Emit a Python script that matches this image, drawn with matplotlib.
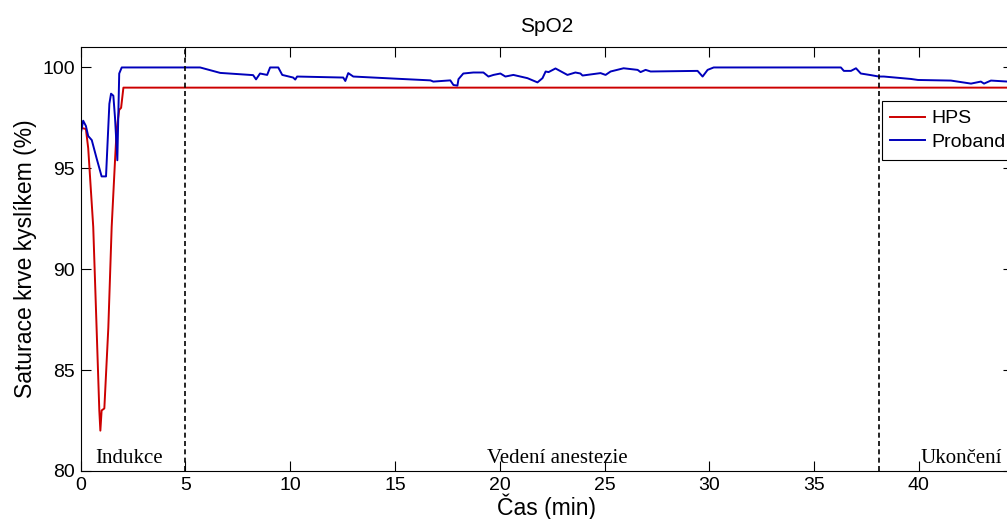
import matplotlib.pyplot as plt

# time axis in minutes, SpO2 in %
hps_t = [0.0, 0.05, 0.25, 0.36, 0.60, 0.76, 0.89, 0.94, 1.00, 1.13, 1.32,
         1.48, 1.64, 1.72, 1.84, 1.93, 2.04, 45.0]
hps_v = [97.0, 97.0, 96.95, 96.0, 92.1, 87.1, 83.0, 82.0, 83.0, 83.1, 87.1,
         92.1, 95.4, 96.95, 97.9, 98.0, 99.0, 99.0]

prob_t = [0.0, 0.12, 0.25, 0.36, 0.53, 0.76, 1.00, 1.21, 1.37, 1.45, 1.56,
          1.64, 1.75, 1.84, 1.96, 5.70, 6.66, 8.23, 8.37, 8.56, 8.90, 9.04,
          9.43, 9.62, 10.14, 10.24, 10.33, 12.53, 12.63, 12.77, 13.01, 15.11,
          16.69, 16.83, 17.64, 17.79, 17.98, 18.03, 18.26, 18.74, 19.22, 19.46,
          19.70, 20.03, 20.27, 20.65, 21.32, 21.80, 22.04, 22.19, 22.33, 22.66,
          23.23, 23.61, 23.85, 23.95, 24.81, 25.05, 25.29, 25.91, 26.58, 26.72,
          26.96, 27.20, 29.44, 29.68, 29.92, 30.21, 36.28, 36.42, 36.76, 37.00,
          37.23, 37.71, 38.09, 38.33, 39.62, 39.96, 41.53, 42.49, 42.96, 43.11,
          43.44, 44.25, 45.0]
prob_v = [96.7, 97.36, 97.1, 96.6, 96.4, 95.5, 94.6, 94.6, 98.2, 98.7, 98.6,
          97.5, 95.4, 99.7, 100.0, 100.0, 99.73, 99.62, 99.41, 99.7, 99.63, 100.0,
          100.0, 99.63, 99.5, 99.4, 99.55, 99.5, 99.33, 99.72, 99.55, 99.44,
          99.36, 99.3, 99.36, 99.13, 99.1, 99.42, 99.7, 99.75, 99.75, 99.55,
          99.63, 99.7, 99.55, 99.63, 99.47, 99.26, 99.47, 99.8, 99.77, 99.95,
          99.63, 99.75, 99.7, 99.6, 99.72, 99.63, 99.8, 99.96, 99.88, 99.77,
          99.88, 99.8, 99.83, 99.55, 99.88, 100.0, 100.0, 99.83, 99.83, 99.96,
          99.7, 99.62, 99.55, 99.55, 99.43, 99.38, 99.35, 99.2, 99.3, 99.2,
          99.35, 99.3, 99.3]

phase_bounds = [5.0, 38.1]
phase_names = ['Indukce', 'Vedení anestezie', 'Ukončení']
phase_x = [0.72, 22.76, 40.1]
phase_ha = ['left', 'center', 'left']

plt.rcParams['font.family'] = ['Liberation Sans', 'DejaVu Sans']

fig = plt.figure(figsize=(10.07, 5.19), dpi=100)
ax = fig.add_axes([0.0801, 0.0925, 0.926, 0.8164])

ax.plot(hps_t, hps_v, color='#cc0000', lw=1.4, label='HPS')
ax.plot(prob_t, prob_v, color='#0000bb', lw=1.4, label='Proband')

for b in phase_bounds:
    ax.axvline(b, color='black', lw=1.2, ls=(0, (3, 2)))

for name, x, ha in zip(phase_names, phase_x, phase_ha):
    ax.text(x, 80.42, name, ha=ha, va='baseline', fontsize=15,
            family=['Liberation Serif', 'DejaVu Serif'])

ax.set_xlim(0, 44.5)
ax.set_ylim(80, 101)
ax.set_xticks(range(0, 45, 5))
ax.set_yticks([80, 85, 90, 95, 100])
ax.tick_params(direction='in', length=7, width=0.8, labelsize=14,
               top=True, right=True, pad=4)

ax.set_title('SpO2', fontsize=15, pad=11)
ax.set_xlabel('Čas (min)', fontsize=16.5, labelpad=0)
ax.set_ylabel('Saturace krve kyslíkem (%)', fontsize=16.5, labelpad=4)

leg = ax.legend(loc='upper left', bbox_to_anchor=(0.859, 0.873),
                borderaxespad=0, fontsize=14, fancybox=False,
                edgecolor='black', framealpha=1, handlelength=1.8,
                handletextpad=0.3, borderpad=0.45, labelspacing=0.3)
leg.get_frame().set_linewidth(0.8)

fig.savefig('out.png', dpi=100)
